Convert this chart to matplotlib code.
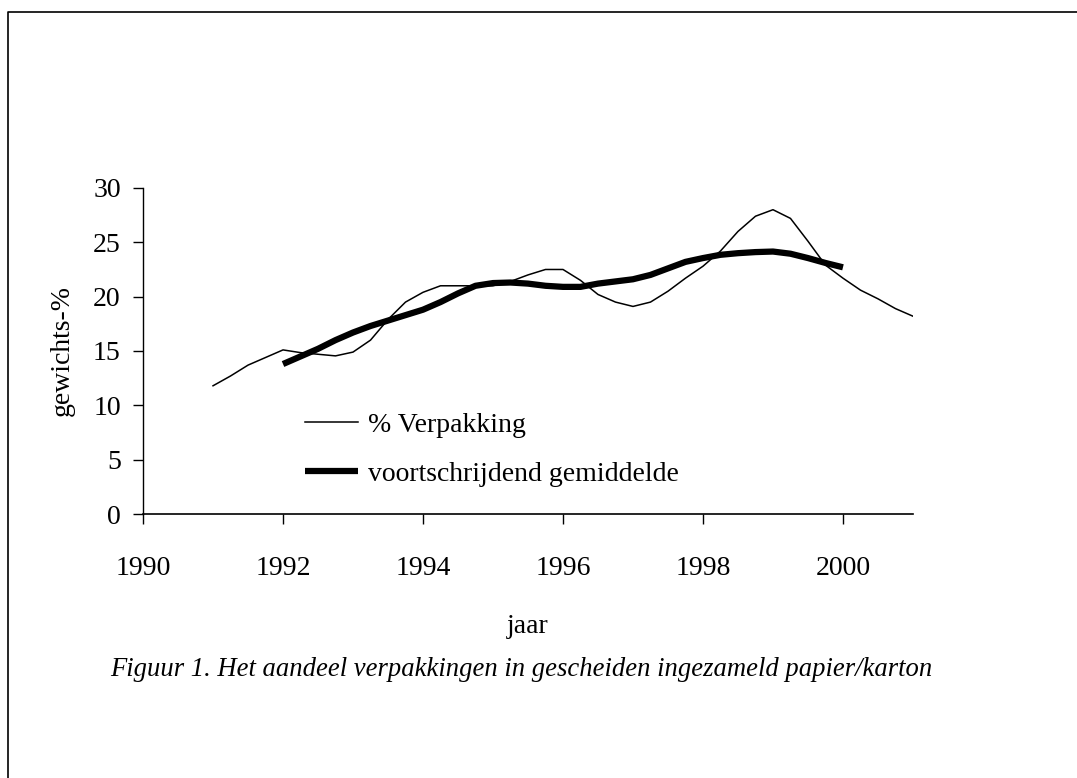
import matplotlib.pyplot as plt
from matplotlib.lines import Line2D

plt.rcParams['font.family'] = 'Liberation Serif'
plt.rcParams['font.size'] = 20

# quarterly share of packaging (%)
years = [1991.00, 1991.25, 1991.50, 1991.75,
         1992.00, 1992.25, 1992.50, 1992.75,
         1993.00, 1993.25, 1993.50, 1993.75,
         1994.00, 1994.25, 1994.50, 1994.75,
         1995.00, 1995.25, 1995.50, 1995.75,
         1996.00, 1996.25, 1996.50, 1996.75,
         1997.00, 1997.25, 1997.50, 1997.75,
         1998.00, 1998.25, 1998.50, 1998.75,
         1999.00, 1999.25, 1999.50, 1999.75,
         2000.00, 2000.25, 2000.50, 2000.75,
         2001.00]
verpakking = [11.8, 12.7, 13.7, 14.4,
              15.1, 14.85, 14.7, 14.55,
              14.9, 16.0, 17.9, 19.5,
              20.4, 21.0, 21.0, 21.0,
              21.0, 21.4, 22.0, 22.5,
              22.5, 21.5, 20.2, 19.5,
              19.1, 19.5, 20.5, 21.7,
              22.8, 24.2, 26.0, 27.4,
              28.0, 27.2, 25.1, 22.9,
              21.7, 20.6, 19.8, 18.9,
              18.2]

# moving average
ma_years = [1992.00, 1992.25, 1992.50, 1992.75,
            1993.00, 1993.25, 1993.50, 1993.75,
            1994.00, 1994.25, 1994.50, 1994.75,
            1995.00, 1995.25, 1995.50, 1995.75,
            1996.00, 1996.25, 1996.50, 1996.75,
            1997.00, 1997.25, 1997.50, 1997.75,
            1998.00, 1998.25, 1998.50, 1998.75,
            1999.00, 1999.25, 1999.50, 1999.75,
            2000.00]
gemiddelde = [13.8, 14.5, 15.2, 16.0,
              16.7, 17.3, 17.8, 18.3,
              18.8, 19.5, 20.3, 21.0,
              21.25, 21.3, 21.2, 21.0,
              20.9, 20.9, 21.2, 21.4,
              21.6, 22.0, 22.6, 23.2,
              23.55, 23.85, 24.0, 24.1,
              24.15, 23.95, 23.55, 23.1,
              22.7]

fig = plt.figure(figsize=(10.77, 7.78), dpi=100)
ax = fig.add_axes([0.1328, 0.3393, 0.8477 - 0.1328, 0.7584 - 0.3393])

ax.plot(years, verpakking, color='black', linewidth=1.1, label='% Verpakking')
ax.plot(ma_years, gemiddelde, color='black', linewidth=4.5, solid_capstyle='butt',
        label='voortschrijdend gemiddelde')

ax.set_xlim(1990, 2001)
ax.set_ylim(0, 30)
ax.set_xticks([1990, 1992, 1994, 1996, 1998, 2000])
ax.set_yticks([0, 5, 10, 15, 20, 25, 30])
ax.spines['top'].set_visible(False)
ax.spines['right'].set_visible(False)
ax.spines['left'].set_linewidth(1.0)
ax.spines['bottom'].set_linewidth(1.2)
ax.tick_params(axis='both', direction='out', length=7, width=1.0)
ax.tick_params(axis='x', pad=23)
ax.tick_params(axis='y', pad=9)
ax.set_xlabel('jaar', labelpad=24)
ax.set_ylabel('gewichts-%', labelpad=13)

ax.legend(loc='upper left', bbox_to_anchor=(0.192, 0.355), frameon=False,
          handlelength=1.9, handletextpad=0.36, labelspacing=0.85, borderpad=0)

fig.text(0.102, 0.131,
         'Figuur 1. Het aandeel verpakkingen in gescheiden ingezameld papier/karton',
         style='italic', fontsize=19.2, va='baseline')

# page frame (left and top edges)
fig.add_artist(Line2D([8 / 1077, 8 / 1077, 1.0], [0.0, 1 - 12 / 778, 1 - 12 / 778],
                      transform=fig.transFigure, color='black', linewidth=1.2))

fig.savefig('out.png', dpi=100)
